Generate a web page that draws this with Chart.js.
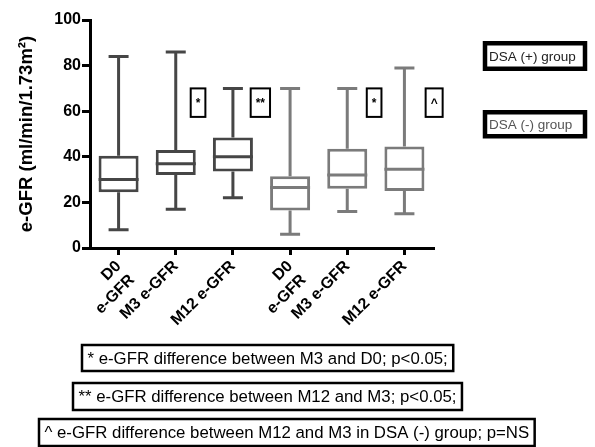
<!DOCTYPE html>
<html>
<head>
<meta charset="utf-8">
<script src="https://cdn.jsdelivr.net/npm/chart.js@4.4.0/dist/chart.umd.min.js"></script>
<style>
  html, body { margin: 0; padding: 0; background: #fff; }
</style>
</head>
<body>
<canvas id="chart" width="595" height="447"></canvas>
<script>
const categories = [["D0", "e-GFR"], "M3 e-GFR", "M12 e-GFR", ["D0", "e-GFR"], "M3 e-GFR", "M12 e-GFR"]
const groups = ["DSA (+) group", "DSA (+) group", "DSA (+) group", "DSA (-) group", "DSA (-) group", "DSA (-) group"]
const minValues = [8, 17, 22, 6, 16, 15]
const q1Values = [24.5, 32, 33.5, 16.5, 26, 25]
const medianValues = [30, 37, 40, 26.5, 32, 34.5]
const q3Values = [40.5, 43, 48.5, 31.5, 43.5, 44.5]
const maxValues = [84, 86, 70, 70, 70, 79]
const yTicks = [0, 20, 40, 60, 80, 100]
const markLabels = ["*", "**", "*", "^"]
const markAt = [1.39, 2.48, 4.47, 5.52]
const footnotes = [
  "* e-GFR difference between M3 and D0; p<0.05;",
  "** e-GFR difference between M12 and M3; p<0.05;",
  "^ e-GFR difference between M12 and M3 in DSA (-) group; p=NS"
]

const groupColors = { "DSA (+) group": "#464646", "DSA (-) group": "#7b7b7b" }
const legendText = { "DSA (+) group": "#222", "DSA (-) group": "#555" }
const FONT = "'Liberation Sans', Arial, sans-serif"
Chart.defaults.font.family = FONT

// whiskers, caps and medians around the floating bars
const boxPlot = {
  id: "boxPlot",
  beforeDatasetsDraw(chart) {
    const { ctx, scales: { y } } = chart
    const meta = chart.getDatasetMeta(0)
    ctx.save()
    ctx.lineWidth = 3
    meta.data.forEach((bar, i) => {
      const cx = bar.x
      const cap = 10
      ctx.strokeStyle = groupColors[groups[i]]
      ctx.beginPath()
      ctx.moveTo(cx, y.getPixelForValue(maxValues[i]))
      ctx.lineTo(cx, y.getPixelForValue(q3Values[i]))
      ctx.moveTo(cx, y.getPixelForValue(q1Values[i]))
      ctx.lineTo(cx, y.getPixelForValue(minValues[i]))
      ctx.moveTo(cx - cap, y.getPixelForValue(maxValues[i]))
      ctx.lineTo(cx + cap, y.getPixelForValue(maxValues[i]))
      ctx.moveTo(cx - cap, y.getPixelForValue(minValues[i]))
      ctx.lineTo(cx + cap, y.getPixelForValue(minValues[i]))
      ctx.stroke()
    })
    ctx.restore()
  },
  afterDatasetsDraw(chart) {
    const { ctx, scales: { y } } = chart
    const meta = chart.getDatasetMeta(0)
    ctx.save()
    ctx.lineWidth = 3
    meta.data.forEach((bar, i) => {
      const py = y.getPixelForValue(medianValues[i])
      ctx.strokeStyle = groupColors[groups[i]]
      ctx.beginPath()
      ctx.moveTo(bar.x - bar.width / 2, py)
      ctx.lineTo(bar.x + bar.width / 2, py)
      ctx.stroke()
    })
    ctx.restore()
  }
}

// significance marks, group boxes and footnotes
const notes = {
  id: "notes",
  afterDraw(chart) {
    const { ctx, scales: { x, y } } = chart
    ctx.save()
    ctx.textBaseline = "middle"

    ctx.font = "bold 12px " + FONT
    ctx.lineWidth = 2
    ctx.strokeStyle = "#000"
    const top = y.getPixelForValue(70)
    const bottom = y.getPixelForValue(57.5)
    markLabels.forEach((label, i) => {
      const cx = x.getPixelForValue(markAt[i])
      const w = ctx.measureText(label).width + 10
      ctx.fillStyle = "#fff"
      ctx.fillRect(cx - w / 2, top, w, bottom - top)
      ctx.strokeRect(cx - w / 2, top, w, bottom - top)
      ctx.fillStyle = "#000"
      ctx.textAlign = "center"
      ctx.fillText(label, cx, (top + bottom) / 2 + 1)
    })

    ctx.font = "13.5px " + FONT
    ctx.textAlign = "left"
    ctx.lineWidth = 4.5
    const legendBoxes = [[43.25, 25.5], [112.25, 24]]
    Object.keys(groupColors).forEach((g, i) => {
      const [ty, th] = legendBoxes[i]
      ctx.strokeRect(485, ty, 100, th)
      ctx.fillStyle = legendText[g]
      ctx.fillText(g, 489, ty + th / 2 + 1)
    })

    ctx.font = "16.8px " + FONT
    ctx.lineWidth = 2.5
    ctx.fillStyle = "#000"
    const footBoxes = [[82, 345, 26], [73, 383, 27], [39, 419, 27]]
    footnotes.forEach((t, i) => {
      const [bx, by, bh] = footBoxes[i]
      const w = ctx.measureText(t).width + 11
      ctx.strokeRect(bx, by, w, bh)
      ctx.fillText(t, bx + 5.5, by + bh / 2 + 1)
    })
    ctx.restore()
  }
}

new Chart(document.getElementById("chart"), {
  type: "bar",
  data: {
    labels: categories,
    datasets: [{
      data: q1Values.map((q1, i) => [q1, q3Values[i]]),
      backgroundColor: "#fff",
      borderColor: groups.map(g => groupColors[g]),
      borderWidth: 3,
      borderSkipped: false,
      barPercentage: 0.7,
      categoryPercentage: 1
    }]
  },
  options: {
    responsive: false,
    animation: false,
    devicePixelRatio: 1,
    layout: { padding: { top: 20, right: 162, bottom: 109, left: 0 } },
    plugins: {
      legend: { display: false },
      tooltip: { enabled: false }
    },
    scales: {
      x: {
        grid: { display: true, drawOnChartArea: false, drawTicks: true, tickLength: 7, lineWidth: 3, color: "#000", offset: false },
        border: { display: true, color: "#000", width: 3 },
        ticks: {
          color: "#000",
          font: { size: 16, weight: "bold" },
          maxRotation: 45,
          minRotation: 45,
          autoSkip: false,
          padding: 2
        },
        afterFit(scale) { scale.height = 90 }
      },
      y: {
        min: 0,
        max: 100,
        afterBuildTicks(scale) { scale.ticks = yTicks.map(v => ({ value: v })) },
        grid: { display: true, drawOnChartArea: false, drawTicks: true, tickLength: 8, lineWidth: 3, color: "#000" },
        border: { display: true, color: "#000", width: 3 },
        ticks: { color: "#000", font: { size: 16, weight: "bold" }, padding: 1 },
        title: {
          display: true,
          text: "e-GFR (ml/min/1.73m²)",
          color: "#000",
          font: { size: 18.5, weight: "bold" },
          padding: { top: 16, bottom: 0 }
        },
        afterFit(scale) { scale.width = 90 }
      }
    }
  },
  plugins: [boxPlot, notes]
})
</script>
</body>
</html>
